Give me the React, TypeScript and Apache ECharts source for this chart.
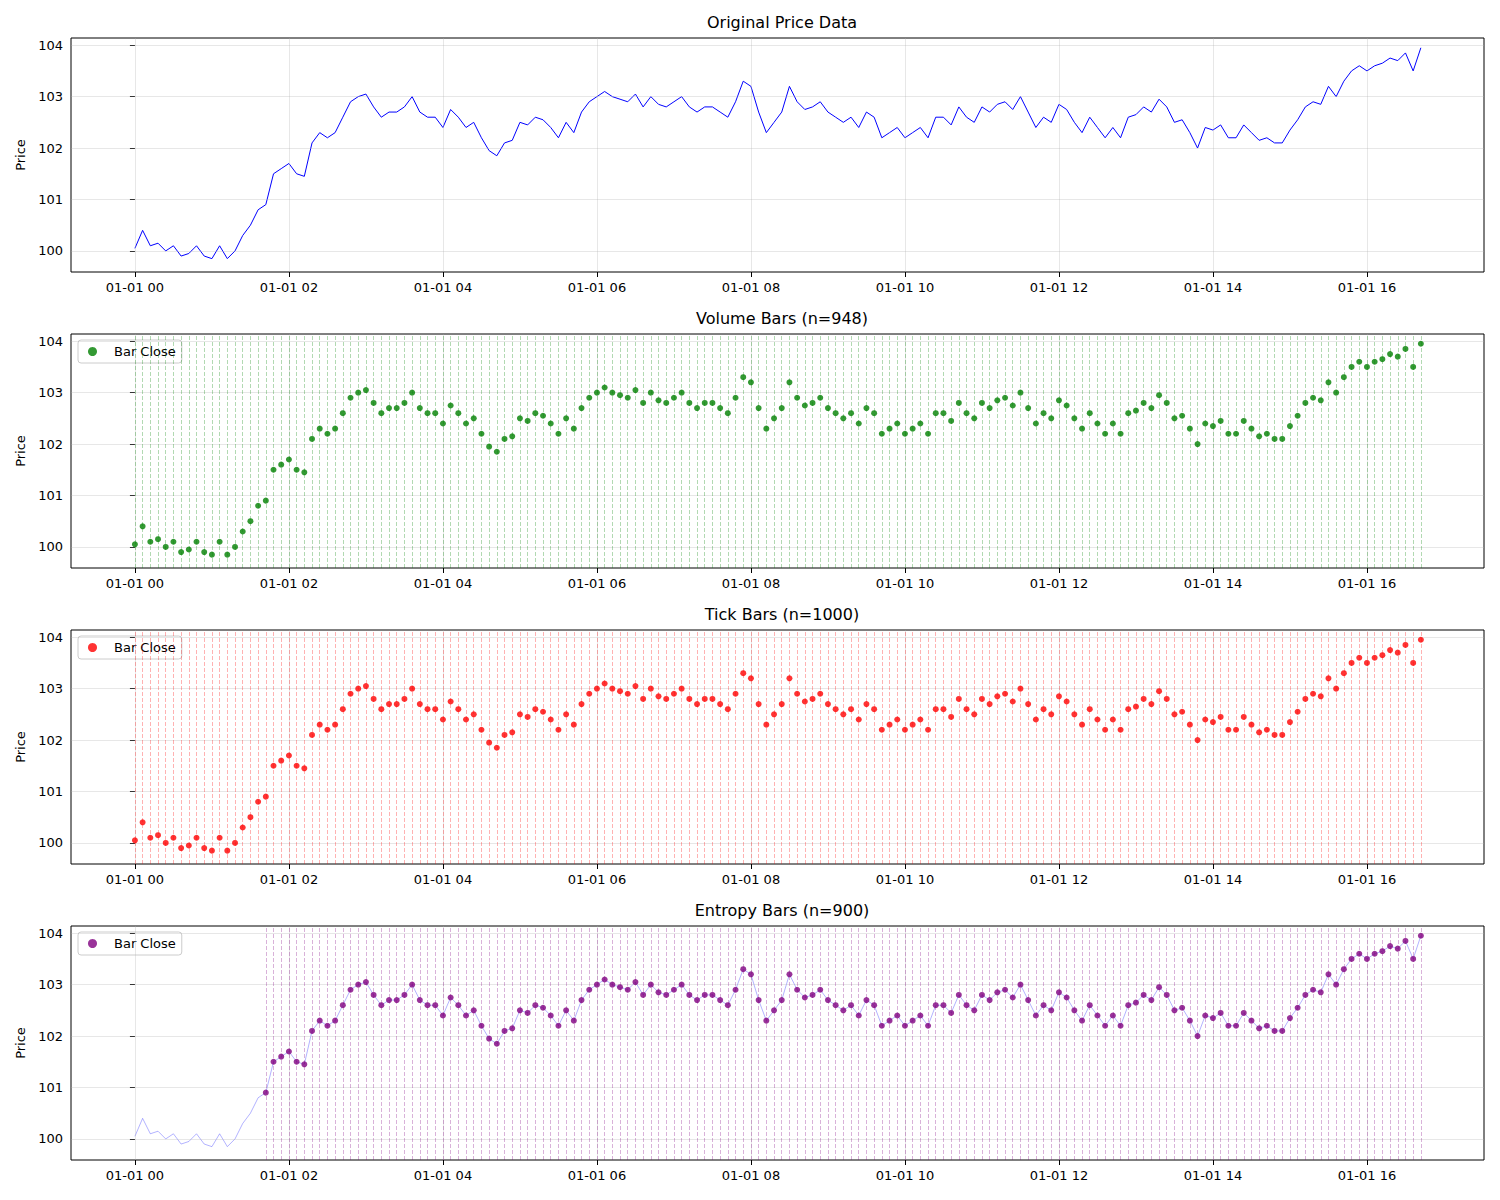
import { useEffect, useRef } from 'react'
import * as echarts from 'echarts'

const prices = [
  100.05, 100.4, 100.1, 100.15, 100.0, 100.1, 99.9, 99.95, 100.1, 99.9,
  99.85, 100.1, 99.85, 100.0, 100.3, 100.5, 100.8, 100.9, 101.5, 101.6,
  101.7, 101.5, 101.45, 102.1, 102.3, 102.2, 102.3, 102.6, 102.9, 103.0,
  103.05, 102.8, 102.6, 102.7, 102.7, 102.8, 103.0, 102.7, 102.6, 102.6,
  102.4, 102.75, 102.6, 102.4, 102.5, 102.2, 101.95, 101.85, 102.1, 102.15,
  102.5, 102.45, 102.6, 102.55, 102.4, 102.2, 102.5, 102.3, 102.7, 102.9,
  103.0, 103.1, 103.0, 102.95, 102.9, 103.05, 102.8, 103.0, 102.85, 102.8,
  102.9, 103.0, 102.8, 102.7, 102.8, 102.8, 102.7, 102.6, 102.9, 103.3,
  103.2, 102.7, 102.3, 102.5, 102.7, 103.2, 102.9, 102.75, 102.8, 102.9,
  102.7, 102.6, 102.5, 102.6, 102.4, 102.7, 102.6, 102.2, 102.3, 102.4,
  102.2, 102.3, 102.4, 102.2, 102.6, 102.6, 102.45, 102.8, 102.6, 102.5,
  102.8, 102.7, 102.85, 102.9, 102.75, 103.0, 102.7, 102.4, 102.6, 102.5,
  102.85, 102.75, 102.5, 102.3, 102.6, 102.4, 102.2, 102.4, 102.2, 102.6,
  102.65, 102.8, 102.7, 102.95, 102.8, 102.5, 102.55, 102.3, 102.0, 102.4,
  102.35, 102.45, 102.2, 102.2, 102.45, 102.3, 102.15, 102.2, 102.1, 102.1,
  102.35, 102.55, 102.8, 102.9, 102.85, 103.2, 103.0, 103.3, 103.5, 103.6,
  103.5, 103.6, 103.65, 103.75, 103.7, 103.85, 103.5, 103.95,
]
const hours = prices.map((_, i) => +(i * 0.1).toFixed(1))
const hourTicks = [0, 2, 4, 6, 8, 10, 12, 14, 16]
const priceTicks = [100, 101, 102, 103, 104]
const titles = ['Original Price Data', 'Volume Bars (n=948)', 'Tick Bars (n=1000)', 'Entropy Bars (n=900)']
const entropyStart = 1.7

const tops = [38, 334, 630, 926]
const FONT = 'DejaVu Sans'

function App() {
  const ref = useRef<HTMLDivElement | null>(null)

  useEffect(() => {
    if (!ref.current) return undefined
    document.body.style.margin = '0'
    const chart = echarts.init(ref.current, undefined, { renderer: 'svg' })
    const pts = hours.map((h, i) => [h, prices[i]])
    const entPts = pts.filter((p) => p[0] >= entropyStart)

    const gridLines = (idx: number) => ({
      type: 'line',
      xAxisIndex: idx,
      yAxisIndex: idx,
      data: [],
      silent: true,
      markLine: {
        silent: true,
        symbol: 'none',
        label: { show: false },
        lineStyle: { color: '#b0b0b0', opacity: 0.3, type: 'solid', width: 1 },
        data: [
          ...hourTicks.map((h) => ({ xAxis: h })),
          ...priceTicks.map((p) => ({ yAxis: p })),
        ],
      },
    })
    const barLines = (idx: number, list: number[][], color: string) => ({
      type: 'line',
      xAxisIndex: idx,
      yAxisIndex: idx,
      data: [],
      silent: true,
      markLine: {
        silent: true,
        symbol: 'none',
        label: { show: false },
        lineStyle: { color, opacity: 0.3, type: [4, 2], width: 1 },
        data: list.map((p) => ({ xAxis: p[0] })),
      },
    })
    const scatter = (idx: number, name: string, list: number[][], color: string) => ({
      type: 'scatter',
      name,
      xAxisIndex: idx,
      yAxisIndex: idx,
      data: list,
      symbolSize: 6,
      itemStyle: { color, opacity: 0.8 },
      z: 5,
    })

    const option: echarts.EChartsOption = {
      animation: false,
      textStyle: { fontFamily: FONT },
      title: titles.map((t, i) => ({
        text: t,
        left: 777,
        textAlign: 'center',
        top: tops[i] - 29,
        textStyle: { fontSize: 16, fontWeight: 'normal', color: '#000', fontFamily: FONT },
      })),
      legend: [1, 2, 3].map((i) => ({
        data: [['vol', 'tick', 'ent'][i - 1]],
        left: 78,
        top: tops[i] + 6,
        orient: 'vertical',
        icon: 'circle',
        borderColor: '#ccc',
        borderWidth: 1,
        borderRadius: 3,
        padding: [5, 6, 5, 10],
        itemWidth: 9,
        itemHeight: 9,
        formatter: () => 'Bar Close',
        textStyle: { fontSize: 13, color: '#000', fontFamily: FONT, padding: [0, 0, 0, 12] },
      })),
      grid: tops.map((t) => ({
        left: 71,
        right: 16,
        top: t,
        height: 234,
        show: true,
        borderColor: '#000',
        borderWidth: 1,
        backgroundColor: 'transparent',
      })),
      xAxis: tops.map((_, i) => ({
        type: 'value',
        gridIndex: i,
        min: -0.83,
        max: 17.52,
        axisLine: { show: false },
        splitLine: { show: false },
        axisTick: { show: true, customValues: hourTicks, length: 5, lineStyle: { color: '#000' } },
        axisLabel: {
          customValues: hourTicks,
          color: '#000',
          fontSize: 13,
          margin: 9,
          formatter: (v: number) => `01-01 ${String(Math.round(v)).padStart(2, '0')}`,
        },
      })),
      yAxis: tops.map((_, i) => ({
        type: 'value',
        gridIndex: i,
        min: 99.59,
        max: 104.14,
        name: 'Price',
        nameLocation: 'middle',
        nameGap: 44,
        nameTextStyle: { fontSize: 13, color: '#000' },
        axisLine: { show: false },
        splitLine: { show: false },
        axisTick: { show: true, customValues: priceTicks, length: 5, lineStyle: { color: '#000' } },
        axisLabel: { customValues: priceTicks, color: '#000', fontSize: 13, formatter: (v: number) => String(Math.round(v)) },
      })),
      series: [
        gridLines(0), gridLines(1), gridLines(2), gridLines(3),
        {
          type: 'line', xAxisIndex: 0, yAxisIndex: 0, data: pts, showSymbol: false,
          lineStyle: { color: '#0000ff', width: 1 },
        },
        barLines(1, pts, '#008000'),
        scatter(1, 'vol', pts, '#008000'),
        barLines(2, pts, '#ff0000'),
        scatter(2, 'tick', pts, '#ff0000'),
        {
          type: 'line', xAxisIndex: 3, yAxisIndex: 3, data: pts, showSymbol: false,
          lineStyle: { color: '#0000ff', width: 1, opacity: 0.3 },
        },
        barLines(3, entPts, '#800080'),
        scatter(3, 'ent', entPts, '#800080'),
      ] as any,
    }
    chart.setOption(option)
    return () => chart.dispose()
  }, [])

  return <div ref={ref} style={{ width: 1500, height: 1200 }} />
}

export default App
